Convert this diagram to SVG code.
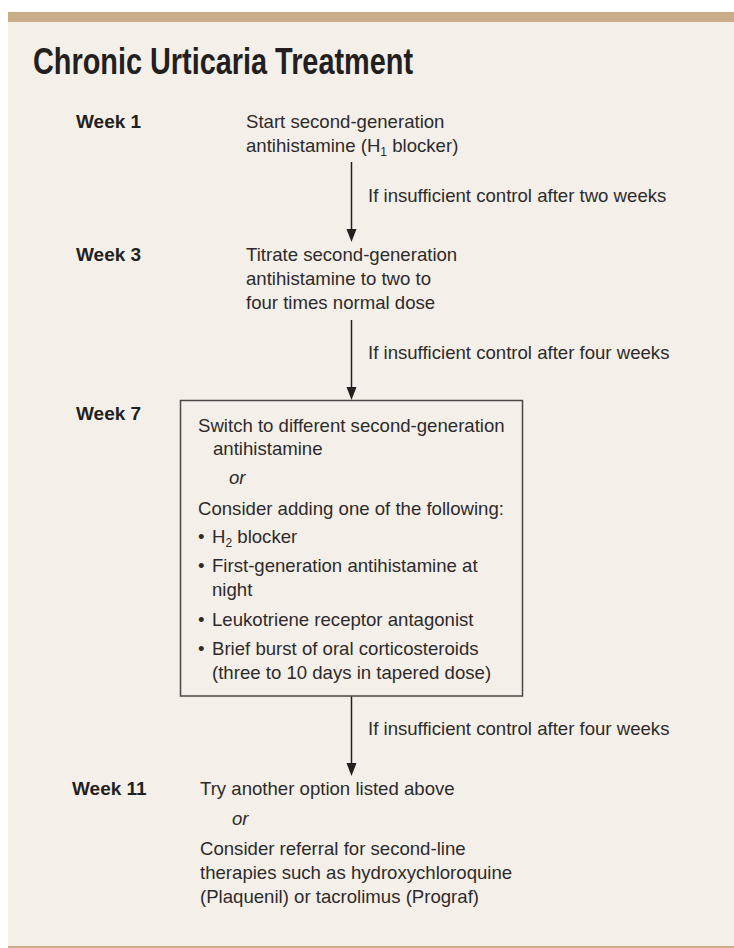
<svg xmlns="http://www.w3.org/2000/svg" width="734" height="948" viewBox="0 0 734 948">
  <style>
    .title { font-family: "Liberation Sans", Arial, sans-serif; font-weight: bold; font-size: 37px; fill: #231f20; }
    .week { font-family: "Liberation Sans", Arial, sans-serif; font-weight: bold; font-size: 19px; fill: #231f20; }
    .body { font-family: "Liberation Sans", Arial, sans-serif; font-size: 18.6px; fill: #2e2a2b; }
    .it { font-style: italic; }
    .sub { font-size: 12px; }
    .conn { stroke: #231f20; stroke-width: 1.5; fill: none; }
    .head { fill: #231f20; stroke: none; }
    .box { fill: none; stroke: #4a4647; stroke-width: 1.5; }
  </style>
  <defs>
    <polygon id="ah" points="-5,-13 5,-13 0,0" class="head"/>
  </defs>

  <rect x="0" y="0" width="734" height="948" fill="#ffffff"/>
  <rect x="8" y="22" width="726" height="924" fill="#f4f0e9"/>
  <rect x="8" y="12" width="726" height="10" fill="#c8ad88"/>
  <rect x="8" y="946" width="726" height="2" fill="#c8ad88"/>

  <text class="title" x="33" y="74" textLength="380" lengthAdjust="spacingAndGlyphs">Chronic Urticaria Treatment</text>

  <g id="connectors">
    <line class="conn" x1="351.5" y1="162" x2="351.5" y2="232"/>
    <use href="#ah" x="351.5" y="242"/>
    <text class="body" x="368" y="202">If insufficient control after two weeks</text>

    <line class="conn" x1="351.5" y1="320" x2="351.5" y2="390"/>
    <use href="#ah" x="351.5" y="400"/>
    <text class="body" x="368" y="359">If insufficient control after four weeks</text>

    <line class="conn" x1="351.5" y1="696" x2="351.5" y2="766"/>
    <use href="#ah" x="351.5" y="776"/>
    <text class="body" x="368" y="735">If insufficient control after four weeks</text>
  </g>

  <g id="week1">
    <text class="week" x="76" y="128">Week 1</text>
    <text class="body" x="246" y="128">Start second-generation</text>
    <text class="body" x="246" y="152">antihistamine (H<tspan class="sub" dy="4">1</tspan><tspan dy="-4"> blocker)</tspan></text>
  </g>

  <g id="week3">
    <text class="week" x="76" y="261">Week 3</text>
    <text class="body" x="246" y="261">Titrate second-generation</text>
    <text class="body" x="246" y="285">antihistamine to two to</text>
    <text class="body" x="246" y="309">four times normal dose</text>
  </g>

  <g id="week7">
    <text class="week" x="76" y="420">Week 7</text>
    <rect class="box" x="180.5" y="400.5" width="342" height="295.5"/>
    <text class="body" x="198" y="432">Switch to different second-generation</text>
    <text class="body" x="213" y="455">antihistamine</text>
    <text class="body it" x="229" y="484">or</text>
    <text class="body" x="198" y="515">Consider adding one of the following:</text>
    <text class="body" x="198" y="543">•</text>
    <text class="body" x="212" y="543">H<tspan class="sub" dy="4">2</tspan><tspan dy="-4"> blocker</tspan></text>
    <text class="body" x="198" y="572">•</text>
    <text class="body" x="212" y="572">First-generation antihistamine at</text>
    <text class="body" x="212" y="596">night</text>
    <text class="body" x="198" y="626">•</text>
    <text class="body" x="212" y="626">Leukotriene receptor antagonist</text>
    <text class="body" x="198" y="655">•</text>
    <text class="body" x="212" y="655">Brief burst of oral corticosteroids</text>
    <text class="body" x="212" y="679">(three to 10 days in tapered dose)</text>
  </g>

  <g id="week11">
    <text class="week" x="72" y="795">Week 11</text>
    <text class="body" x="200" y="795">Try another option listed above</text>
    <text class="body it" x="232" y="825">or</text>
    <text class="body" x="200" y="855">Consider referral for second-line</text>
    <text class="body" x="200" y="879">therapies such as hydroxychloroquine</text>
    <text class="body" x="200" y="903">(Plaquenil) or tacrolimus (Prograf)</text>
  </g>
</svg>
